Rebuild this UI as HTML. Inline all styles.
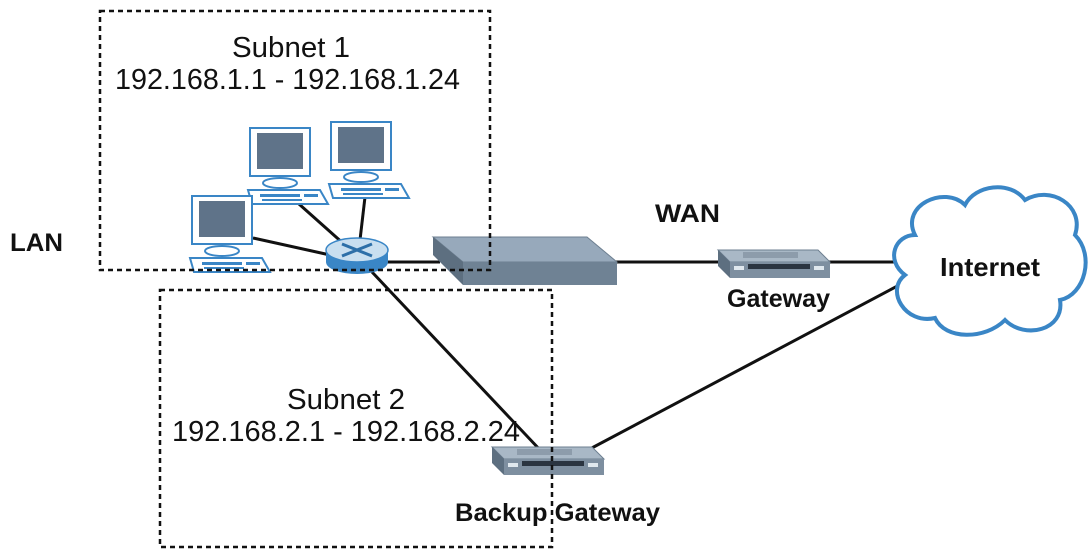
<!DOCTYPE html>
<html><head><meta charset="utf-8"><style>
html,body{margin:0;padding:0;background:#fff;}
svg{display:block;}
text{font-family:"Liberation Sans",sans-serif;}
</style></head><body>
<svg width="1090" height="556" viewBox="0 0 1090 556" xmlns="http://www.w3.org/2000/svg">
<defs>
<g id="pc">
  <rect x="0" y="0" width="60" height="48" fill="#fff" stroke="#3a86c6" stroke-width="2"/>
  <rect x="7" y="5" width="46" height="36" fill="#5f7389"/>
  <ellipse cx="30" cy="55" rx="17" ry="5" fill="#fff" stroke="#3a86c6" stroke-width="2"/>
  <polygon points="-2,62 70,62 78,76 2,76" fill="#fff" stroke="#3a86c6" stroke-width="2"/>
  <rect x="10" y="66" width="40" height="3" fill="#3a86c6"/>
  <rect x="54" y="66" width="14" height="3" fill="#3a86c6"/>
  <rect x="12" y="71" width="40" height="2" fill="#3a86c6"/>
</g>
<g id="gw">
  <polygon points="0,0 100,0 112,12 12,12" fill="#a9b8c6" stroke="#6d7f90"/>
  <rect x="25" y="2" width="55" height="6" fill="#8d9cab"/>
  <polygon points="0,0 12,12 12,28 0,16" fill="#5d6f80"/>
  <rect x="12" y="12" width="100" height="16" fill="#7e8fa0"/>
  <rect x="30" y="14" width="62" height="5" fill="#2a3440"/>
  <rect x="16" y="16" width="10" height="4" fill="#e0e8ee"/>
  <rect x="96" y="16" width="10" height="4" fill="#e0e8ee"/>
</g>
</defs>

<g stroke="#111" stroke-width="3" fill="none">
  <line x1="290" y1="196" x2="345" y2="245"/>
  <line x1="365" y1="197" x2="360" y2="240"/>
  <line x1="253" y1="238" x2="330" y2="255"/>
  <line x1="380" y1="262" x2="440" y2="262"/>
  <line x1="610" y1="262" x2="720" y2="262"/>
  <line x1="825" y1="262" x2="900" y2="262"/>
  <line x1="372" y1="272" x2="542" y2="452"/>
  <line x1="588" y1="450" x2="905" y2="282"/>
</g>

<polygon points="433,237 587,237 617,262 463,262" fill="#97a9bb" stroke="#6d7f90"/>
<polygon points="433,237 463,262 463,285 433,255" fill="#5d6f80"/>
<rect x="463" y="262" width="154" height="23" fill="#6f8294"/>

<ellipse cx="357" cy="262" rx="31" ry="12" fill="#3a86c6"/>
<rect x="326" y="250" width="62" height="12" fill="#3a86c6"/>
<ellipse cx="357" cy="250" rx="31" ry="12" fill="#c9dff0" stroke="#3a86c6" stroke-width="1.5"/>
<path d="M342 244 L372 256 M372 244 L342 256" stroke="#2d6fa8" stroke-width="3"/>

<use href="#pc" x="250" y="128"/>
<use href="#pc" x="331" y="122"/>
<use href="#pc" x="192" y="196"/>

<use href="#gw" x="718" y="250"/>
<use href="#gw" x="492" y="447"/>

<path d="M915 235 C900 205 945 185 965 205 C975 185 1010 180 1025 200 C1050 185 1085 205 1075 235 C1095 255 1085 295 1060 300 C1065 330 1025 340 1005 320 C985 340 945 340 935 318 C905 325 885 290 905 275 C885 260 895 235 915 235 Z" fill="#fff" stroke="#3a86c6" stroke-width="4"/>

<g stroke="#111" stroke-width="2.5" stroke-dasharray="5,4" fill="none">
  <rect x="100" y="11" width="390" height="259"/>
  <rect x="160" y="290" width="392" height="257"/>
</g>

<g fill="#111">
<text x="232" y="57" font-size="29" textLength="118" lengthAdjust="spacingAndGlyphs">Subnet 1</text>
<text x="115" y="89" font-size="29" textLength="345" lengthAdjust="spacingAndGlyphs">192.168.1.1 - 192.168.1.24</text>
<text x="287" y="409" font-size="29" textLength="118" lengthAdjust="spacingAndGlyphs">Subnet 2</text>
<text x="172" y="441" font-size="29" textLength="348" lengthAdjust="spacingAndGlyphs">192.168.2.1 - 192.168.2.24</text>
<text x="10" y="251" font-size="25" font-weight="bold" textLength="53" lengthAdjust="spacingAndGlyphs">LAN</text>
<text x="655" y="222" font-size="25" font-weight="bold" textLength="65" lengthAdjust="spacingAndGlyphs">WAN</text>
<text x="727" y="307" font-size="25" font-weight="bold" textLength="103" lengthAdjust="spacingAndGlyphs">Gateway</text>
<text x="940" y="276" font-size="26" font-weight="bold" textLength="100" lengthAdjust="spacingAndGlyphs">Internet</text>
<text x="455" y="521" font-size="25" font-weight="bold" textLength="205" lengthAdjust="spacingAndGlyphs">Backup Gateway</text>
</g>
</svg>
</body></html>
